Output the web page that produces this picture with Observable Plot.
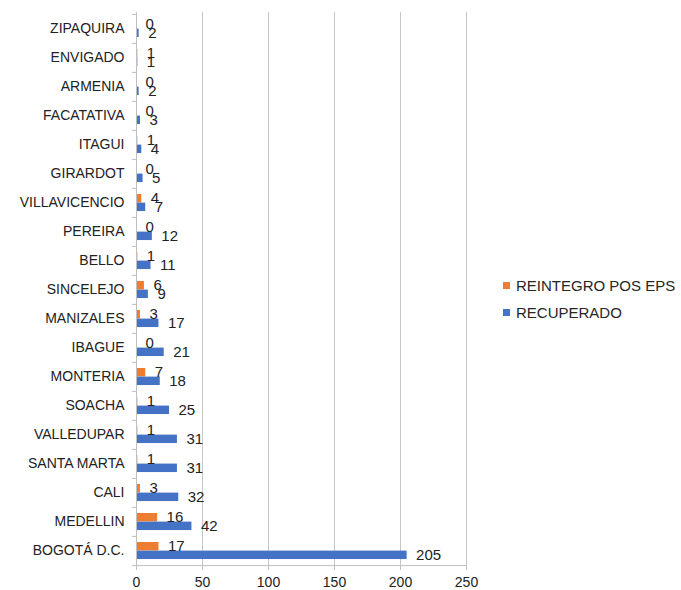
<!DOCTYPE html>
<html>
<head>
<meta charset="utf-8">
<script src="https://cdn.jsdelivr.net/npm/d3@7"></script>
<script src="https://cdn.jsdelivr.net/npm/@observablehq/plot@0.6"></script>
<style>
  html, body { margin: 0; padding: 0; background: #fff; }
  #wrap { position: relative; width: 681px; height: 590px; font-family: "Liberation Sans", Arial, sans-serif; color: #262626; }
  .legend { position: absolute; left: 503px; font-size: 15px; display: flex; align-items: center; white-space: nowrap; }
  .legend .sw { width: 7px; height: 7px; margin-right: 6px; }
</style>
</head>
<body>
<div id="wrap"></div>
<script>
const cities = ["ZIPAQUIRA","ENVIGADO","ARMENIA","FACATATIVA","ITAGUI","GIRARDOT","VILLAVICENCIO","PEREIRA","BELLO","SINCELEJO","MANIZALES","IBAGUE","MONTERIA","SOACHA","VALLEDUPAR","SANTA MARTA","CALI","MEDELLIN","BOGOTÁ D.C."];
const reintegro = [0,1,0,0,1,0,4,0,1,6,3,0,7,1,1,1,3,16,17];
const recuperado = [2,1,2,3,4,5,7,12,11,9,17,21,18,25,31,31,32,42,205];
const xTicks = [0,50,100,150,200,250];
const seriesNames = ["REINTEGRO POS EPS","RECUPERADO"];
const seriesColors = ["#ED7D31","#4472C4"];

const table = cities.map((c, i) => ({city: c, reintegro: reintegro[i], recuperado: recuperado[i]}));

const H = 590, mT = 12, mB = 24;
const bw = (H - mT - mB) / cities.length;
const gray = "#bfbfbf";
const textColor = "#222";

const chart = Plot.plot({
  width: 681,
  height: H,
  marginLeft: 136,
  marginRight: 215,
  marginTop: mT,
  marginBottom: mB,
  style: {fontFamily: '"Liberation Sans", Arial, sans-serif', fontSize: "14px", color: textColor, background: "#fff"},
  x: {domain: [0, 250]},
  y: {domain: cities, padding: 0},
  marks: [
    Plot.gridX(xTicks.filter(d => d > 0), {stroke: "#c6c6c6", strokeOpacity: 1}),
    Plot.barX(table, {x: "reintegro", y: "city", fill: seriesColors[0], insetTop: 6, insetBottom: bw - 14.6}),
    Plot.barX(table, {x: "recuperado", y: "city", fill: seriesColors[1], insetTop: 14.6, insetBottom: bw - 14.6 - 8.6}),
    Plot.ruleX([0], {stroke: gray}),
    Plot.ruleY([cities[cities.length - 1]], {dy: bw / 2, stroke: gray}),
    Plot.text(table, {x: "reintegro", y: "city", text: d => String(d.reintegro), dx: 9, dy: -5, textAnchor: "start", fontSize: 15, fill: textColor}),
    Plot.text(table, {x: "recuperado", y: "city", text: d => String(d.recuperado), dx: 9, dy: 4, textAnchor: "start", fontSize: 15, fill: textColor}),
    Plot.axisY({tickSize: 0, tickPadding: 12, fontSize: 14, fill: textColor, label: null}),
    Plot.axisY({tickSize: 4, tickFormat: () => "", dy: -bw / 2, stroke: gray, label: null}),
    Plot.axisY({ticks: [cities[cities.length - 1]], tickSize: 4, tickFormat: () => "", dy: bw / 2, stroke: gray, label: null}),
    Plot.axisX({ticks: xTicks, tickSize: 4, tickPadding: 7, fontSize: 14, stroke: gray, fill: textColor, label: null})
  ]
});

const wrap = document.getElementById("wrap");
wrap.appendChild(chart);

const legendTops = [277, 304];
seriesNames.forEach((name, i) => {
  const row = document.createElement("div");
  row.className = "legend";
  row.style.top = legendTops[i] + "px";
  const sw = document.createElement("div");
  sw.className = "sw";
  sw.style.background = seriesColors[i];
  const t = document.createElement("span");
  t.textContent = name;
  row.appendChild(sw);
  row.appendChild(t);
  wrap.appendChild(row);
});
</script>
</body>
</html>
